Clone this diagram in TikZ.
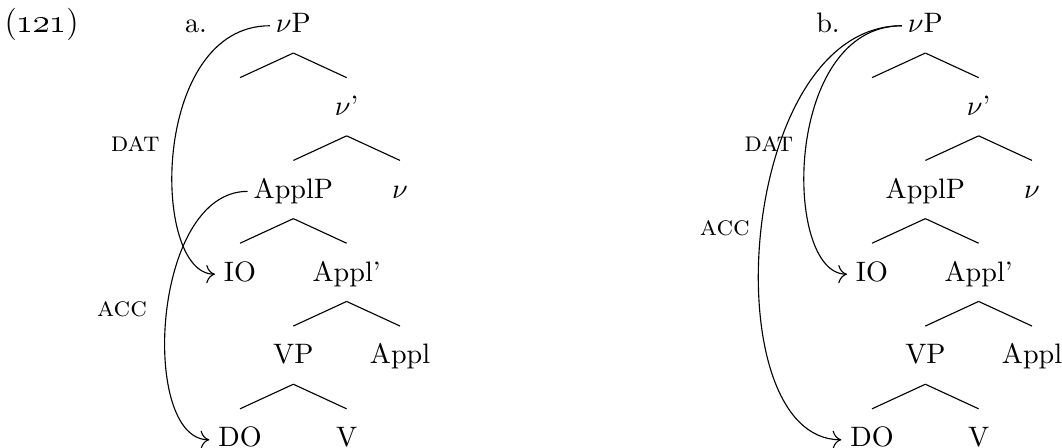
\documentclass[tikz,border=0pt]{standalone}
\usepackage{amsmath}
\usepackage{tikz}
\usetikzlibrary{arrows.meta}

\begin{document}
\begin{tikzpicture}[
    cat/.style={inner sep=0pt, anchor=base, text height=7pt, text depth=2pt},
    move/.style={-{To[scale=1.25]}, shorten <=2pt, shorten >=3pt, out=180, in=180}
]
    \useasboundingbox (0,0) rectangle (13.275,5.6);

    % Example number
    \node[cat] (exnum) at (0.52,5.19) {\fontsize{11.5}{13}\selectfont(\oldstylenums{121})};

    % Both trees, b shifted to the right
    \foreach \t/\dx in {a/0, b/7.9} {
        \begin{scope}[xshift=\dx cm]
            \node[cat] (lab\t) at (2.45,5.19) {\t.};

            \node[cat] (vP\t) at (3.667,5.19) {$\nu$P};
            \node[cat] (spec\t) at (3.0,4.155) {};
            \node[cat] (vbar\t) at (4.333,4.155) {$\nu$'};
            \node[cat] (ApplP\t) at (3.667,3.12) {ApplP};
            \node[cat] (v\t) at (5.0,3.12) {$\nu$};
            \node[cat] (IO\t) at (3.0,2.085) {IO};
            \node[cat] (Applbar\t) at (4.333,2.085) {Appl'};
            \node[cat] (VP\t) at (3.667,1.05) {VP};
            \node[cat] (Appl\t) at (5.0,1.05) {Appl};
            \node[cat] (DO\t) at (3.0,0.015) {DO};
            \node[cat] (V\t) at (4.333,0.015) {V};
        \end{scope}

        % Branches
        \foreach \p/\c in {vP/spec, vP/vbar, vbar/ApplP, vbar/v, ApplP/IO,
                           ApplP/Applbar, Applbar/VP, Applbar/Appl, VP/DO, VP/V}
            \draw ([yshift=-5pt]\p\t.south) -- ([yshift=6.3pt]\c\t.north);
    }

    % Case arrows, tree a
    \node[cat] (data) at (1.69,3.7) {\textsc{dat}};
    \node[cat] (acca) at (1.525,1.64) {\textsc{acc}};
    \draw[move] (vPa) to[out distance=1.56cm, in distance=0.91cm] (IOa);
    \draw[move] (ApplPa) to[out distance=1.275cm, in distance=0.975cm] (DOa);

    % Case arrows, tree b
    \node[cat] (datb) at (9.61,3.7) {\textsc{dat}};
    \node[cat] (accb) at (9.06,2.66) {\textsc{acc}};
    \draw[move] (vPb) to[out distance=1.56cm, in distance=0.91cm] (IOb);
    \draw[move] (vPb) to[out distance=2.15cm, in distance=1.72cm] (DOb);
\end{tikzpicture}
\end{document}
